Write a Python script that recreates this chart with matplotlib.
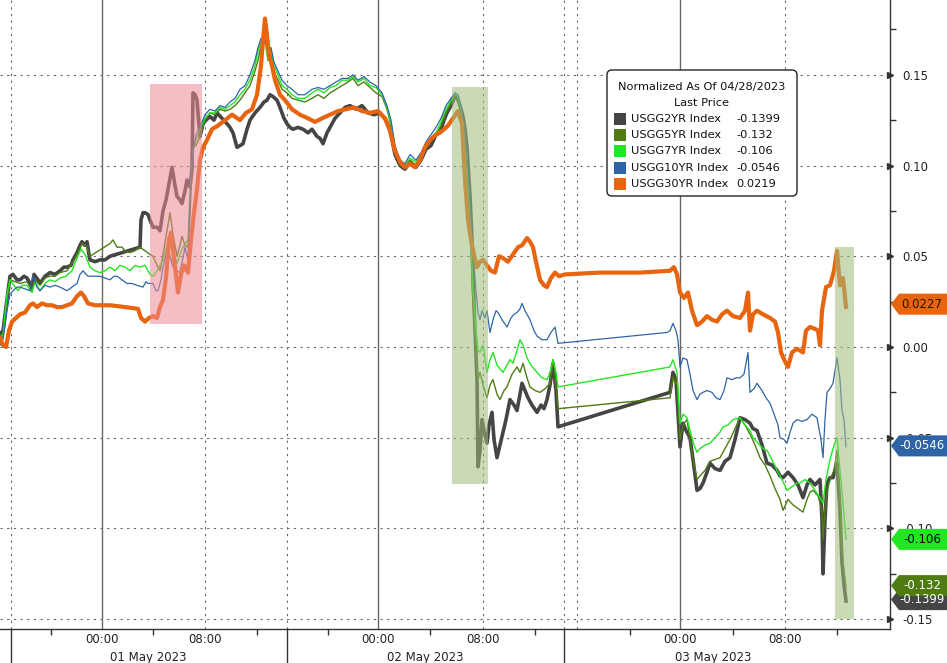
import matplotlib
matplotlib.use("Agg")
import matplotlib.pyplot as plt
from matplotlib.patches import Polygon, FancyBboxPatch, Rectangle
from matplotlib.transforms import blended_transform_factory, Affine2D

# ---------------- data (x = position on the session time axis) ----------------
x_30 = [0,3,6,9,12,16,20,25,30,33,37,42,47,52,57,62,67,72,77,81,84,88,95,110,125,138,141,145,149,153,157,160,163,166,169,171,174,178,181,184,188,191,194,197,200,203,207,212,218,225,232,240,246,252,257,261,263,265,267,269,272,275,280,285,292,300,308,315,322,330,338,346,354,362,370,378,385,390,395,400,405,410,415,420,425,430,436,442,448,453,458,462,465,468,471,474,477,480,483,487,491,495,499,503,508,513,518,522,527,530,533,536,540,544,547,551,555,559,565,600,640,670,674,677,680,684,688,692,697,702,707,712,717,722,727,733,740,745,748,750,753,757,763,770,775,778,781,785,788,792,797,803,806,810,815,818,820,822,826,830,834,837,840,843,846]
v_30 = [0.005,0.001,0.000,0.009,0.014,0.016,0.018,0.019,0.023,0.024,0.022,0.024,0.023,0.023,0.022,0.022,0.023,0.024,0.028,0.030,0.028,0.024,0.023,0.023,0.022,0.021,0.016,0.014,0.016,0.017,0.016,0.022,0.026,0.038,0.059,0.063,0.049,0.030,0.040,0.045,0.041,0.059,0.074,0.087,0.103,0.110,0.114,0.120,0.122,0.125,0.128,0.125,0.129,0.131,0.139,0.155,0.169,0.181,0.172,0.161,0.155,0.147,0.139,0.136,0.131,0.128,0.126,0.124,0.126,0.128,0.130,0.131,0.132,0.130,0.129,0.130,0.126,0.119,0.108,0.102,0.099,0.101,0.099,0.103,0.110,0.114,0.117,0.119,0.122,0.126,0.130,0.123,0.092,0.070,0.059,0.051,0.044,0.047,0.048,0.045,0.042,0.041,0.050,0.049,0.047,0.051,0.055,0.056,0.060,0.058,0.055,0.047,0.037,0.034,0.033,0.038,0.041,0.039,0.040,0.041,0.041,0.042,0.044,0.040,0.030,0.027,0.030,0.020,0.012,0.014,0.017,0.015,0.014,0.018,0.020,0.017,0.016,0.020,0.030,0.009,0.018,0.020,0.018,0.016,0.014,0.008,-0.003,-0.008,-0.011,-0.003,-0.001,-0.003,0.009,0.011,0.010,0.009,0.001,0.020,0.033,0.034,0.042,0.053,0.034,0.038,0.022]

x_2 = [0,3,7,10,13,17,20,24,27,32,34,38,40,45,50,55,60,64,67,71,73,77,80,82,85,87,89,90,95,100,105,110,140,141,143,145,148,150,153,157,160,163,166,169,172,175,177,180,182,185,187,190,192,193,195,197,199,200,203,206,210,214,217,222,227,230,233,237,240,243,247,250,255,260,264,267,270,273,277,280,284,287,290,293,298,303,308,312,317,320,323,327,330,335,340,345,350,356,362,368,374,380,386,390,395,400,405,410,416,421,426,431,436,440,444,447,451,455,457,460,463,465,467,470,472,473,475,477,478,480,482,484,487,489,492,494,497,500,503,506,510,514,517,520,522,525,528,532,537,541,544,547,550,553,556,558,670,673,676,678,680,683,686,690,693,697,700,703,707,710,715,720,725,730,735,740,745,750,753,757,762,767,772,777,780,783,788,793,798,803,807,810,815,820,822,823,825,827,830,833,837,840,842,844,846]
v_2 = [0.007,0.009,0.026,0.039,0.040,0.037,0.037,0.039,0.038,0.033,0.040,0.037,0.035,0.039,0.041,0.040,0.042,0.044,0.044,0.045,0.048,0.052,0.056,0.058,0.056,0.058,0.051,0.048,0.047,0.048,0.048,0.050,0.055,0.070,0.074,0.074,0.073,0.070,0.066,0.066,0.064,0.075,0.081,0.090,0.099,0.089,0.083,0.081,0.079,0.086,0.092,0.088,0.098,0.140,0.139,0.136,0.122,0.116,0.123,0.125,0.127,0.125,0.129,0.126,0.123,0.121,0.118,0.110,0.111,0.112,0.120,0.125,0.129,0.132,0.135,0.136,0.139,0.138,0.136,0.132,0.126,0.123,0.121,0.120,0.121,0.120,0.118,0.120,0.116,0.115,0.112,0.118,0.121,0.126,0.129,0.132,0.133,0.131,0.133,0.129,0.128,0.129,0.125,0.120,0.106,0.100,0.098,0.102,0.099,0.103,0.109,0.111,0.117,0.118,0.125,0.129,0.133,0.138,0.138,0.133,0.127,0.120,0.110,0.083,0.059,0.037,0.009,-0.018,-0.066,-0.057,-0.040,-0.046,-0.053,-0.043,-0.036,-0.051,-0.061,-0.054,-0.047,-0.040,-0.029,-0.032,-0.035,-0.026,-0.020,-0.024,-0.028,-0.032,-0.036,-0.032,-0.034,-0.029,-0.021,-0.009,-0.024,-0.044,-0.025,-0.014,-0.018,-0.036,-0.055,-0.042,-0.046,-0.050,-0.062,-0.079,-0.078,-0.075,-0.069,-0.064,-0.067,-0.068,-0.063,-0.061,-0.051,-0.039,-0.040,-0.042,-0.045,-0.046,-0.054,-0.064,-0.065,-0.068,-0.071,-0.072,-0.069,-0.072,-0.076,-0.083,-0.076,-0.073,-0.076,-0.073,-0.095,-0.125,-0.095,-0.075,-0.072,-0.072,-0.064,-0.090,-0.119,-0.131,-0.140]

x_5 = [0,3,7,10,15,20,27,32,35,40,45,50,55,60,67,73,78,82,86,90,110,113,117,122,125,130,135,140,145,150,153,157,160,163,167,170,173,177,180,182,185,188,190,193,196,200,205,210,215,220,225,230,235,240,245,250,255,258,261,264,266,268,271,274,278,282,287,292,298,305,312,318,324,330,336,342,348,353,358,364,370,376,382,387,391,395,400,405,410,416,421,426,431,436,441,446,451,455,458,461,464,467,470,473,476,478,480,483,487,490,493,497,500,504,507,512,517,520,523,527,530,535,540,545,550,553,556,558,670,673,677,680,683,687,690,694,697,700,705,710,715,720,725,730,735,740,745,750,755,760,765,770,775,780,783,788,793,798,803,807,810,813,818,822,823,825,827,830,834,837,840,842,844,846]
v_5 = [0.007,0.005,0.026,0.037,0.036,0.035,0.036,0.031,0.037,0.034,0.038,0.039,0.039,0.041,0.042,0.047,0.052,0.057,0.056,0.050,0.057,0.059,0.055,0.055,0.053,0.052,0.053,0.055,0.053,0.051,0.050,0.045,0.042,0.051,0.064,0.074,0.062,0.050,0.056,0.061,0.056,0.055,0.073,0.110,0.111,0.116,0.125,0.129,0.128,0.131,0.130,0.131,0.133,0.136,0.140,0.144,0.152,0.158,0.166,0.172,0.166,0.158,0.161,0.152,0.147,0.142,0.140,0.137,0.136,0.135,0.137,0.139,0.137,0.140,0.142,0.144,0.146,0.148,0.144,0.146,0.143,0.140,0.138,0.131,0.122,0.108,0.100,0.099,0.103,0.100,0.104,0.110,0.114,0.117,0.122,0.129,0.134,0.139,0.138,0.131,0.120,0.103,0.064,0.026,-0.002,-0.018,-0.014,-0.021,-0.028,-0.021,-0.018,-0.026,-0.029,-0.024,-0.022,-0.015,-0.011,-0.014,-0.009,-0.017,-0.022,-0.024,-0.025,-0.023,-0.020,-0.007,-0.021,-0.034,-0.028,-0.017,-0.021,-0.051,-0.043,-0.040,-0.051,-0.065,-0.073,-0.071,-0.068,-0.063,-0.062,-0.061,-0.056,-0.051,-0.045,-0.039,-0.043,-0.048,-0.054,-0.061,-0.065,-0.071,-0.078,-0.084,-0.090,-0.084,-0.087,-0.089,-0.091,-0.084,-0.080,-0.079,-0.082,-0.090,-0.106,-0.090,-0.080,-0.073,-0.068,-0.057,-0.084,-0.112,-0.123,-0.132]

x_7 = [0,3,7,10,14,18,22,27,32,35,40,45,50,55,60,66,72,77,81,85,90,95,100,105,110,115,120,125,130,135,140,145,150,153,157,160,163,167,170,173,177,180,183,188,190,193,196,200,205,210,215,220,225,230,235,240,245,250,255,258,261,264,266,268,271,274,278,282,287,292,298,305,312,318,324,330,336,342,348,353,358,364,370,376,382,387,391,395,400,405,410,416,421,426,431,436,441,446,451,455,458,461,464,467,470,473,476,478,480,483,487,490,493,497,500,503,507,510,513,517,520,523,527,531,537,542,547,550,553,556,558,670,673,677,680,683,687,690,694,697,700,705,710,715,720,723,728,733,740,745,750,753,758,763,767,772,777,782,787,792,797,800,805,810,815,820,823,826,830,834,837,840,843,846]
v_7 = [0.004,0.007,0.029,0.037,0.034,0.031,0.034,0.034,0.030,0.036,0.031,0.035,0.037,0.036,0.038,0.039,0.042,0.049,0.054,0.051,0.044,0.042,0.041,0.042,0.044,0.042,0.045,0.044,0.042,0.045,0.044,0.045,0.040,0.039,0.042,0.045,0.048,0.056,0.061,0.053,0.046,0.051,0.055,0.059,0.085,0.108,0.114,0.120,0.126,0.129,0.129,0.132,0.131,0.133,0.135,0.139,0.142,0.147,0.155,0.163,0.168,0.169,0.165,0.158,0.164,0.155,0.150,0.144,0.142,0.139,0.137,0.137,0.140,0.142,0.140,0.143,0.144,0.147,0.147,0.149,0.146,0.148,0.144,0.143,0.139,0.132,0.123,0.110,0.102,0.100,0.104,0.102,0.106,0.111,0.115,0.118,0.124,0.131,0.136,0.140,0.138,0.131,0.121,0.104,0.070,0.031,0.009,-0.002,-0.003,0.001,-0.014,-0.007,-0.003,-0.010,-0.012,-0.014,-0.010,-0.007,-0.009,-0.002,0.004,0.001,-0.006,-0.010,-0.014,-0.017,-0.018,-0.014,-0.007,-0.014,-0.022,-0.011,-0.007,-0.014,-0.042,-0.037,-0.039,-0.046,-0.054,-0.058,-0.056,-0.054,-0.053,-0.050,-0.047,-0.044,-0.043,-0.040,-0.039,-0.043,-0.046,-0.050,-0.053,-0.056,-0.057,-0.062,-0.068,-0.073,-0.079,-0.077,-0.075,-0.075,-0.073,-0.075,-0.079,-0.083,-0.086,-0.073,-0.062,-0.054,-0.050,-0.068,-0.086,-0.106]

x_10 = [0,3,7,10,13,17,20,25,30,33,37,40,45,50,55,60,67,72,77,80,83,86,88,95,100,105,110,114,117,122,127,132,137,143,146,148,153,156,158,161,163,166,168,171,173,177,180,183,185,188,190,193,196,200,205,210,215,220,225,230,235,240,245,250,255,258,261,264,266,268,271,274,278,282,287,292,298,305,312,318,324,330,336,342,348,353,358,364,370,376,382,387,391,395,400,405,410,416,421,426,431,436,441,446,451,455,458,461,464,467,470,473,476,478,480,482,485,487,490,493,496,498,502,507,511,514,517,520,522,525,530,534,537,542,547,551,555,558,667,670,673,676,678,680,683,687,690,693,697,700,703,707,712,716,720,724,727,732,736,740,744,748,750,754,757,762,766,770,774,778,780,784,787,790,793,797,802,807,812,817,821,823,825,827,830,833,837,840,842,844,846]
v_10 = [0.001,0.004,0.020,0.029,0.031,0.033,0.033,0.032,0.031,0.039,0.033,0.031,0.034,0.033,0.034,0.033,0.031,0.033,0.035,0.040,0.042,0.040,0.039,0.039,0.039,0.038,0.037,0.039,0.039,0.037,0.035,0.035,0.034,0.033,0.036,0.035,0.035,0.031,0.031,0.037,0.044,0.051,0.055,0.048,0.044,0.042,0.041,0.049,0.055,0.048,0.081,0.108,0.117,0.121,0.128,0.131,0.130,0.133,0.132,0.135,0.137,0.142,0.144,0.150,0.158,0.165,0.170,0.168,0.169,0.163,0.165,0.157,0.152,0.147,0.144,0.142,0.139,0.139,0.142,0.143,0.142,0.144,0.146,0.148,0.148,0.150,0.147,0.149,0.146,0.144,0.140,0.133,0.125,0.111,0.103,0.101,0.106,0.103,0.107,0.113,0.117,0.121,0.126,0.133,0.137,0.140,0.139,0.133,0.122,0.106,0.081,0.053,0.031,0.019,0.015,0.020,0.016,0.020,0.008,0.015,0.020,0.019,0.015,0.011,0.016,0.018,0.019,0.021,0.024,0.020,0.015,0.009,0.006,0.004,0.004,0.008,0.011,0.002,0.008,0.009,0.013,0.009,0.004,-0.011,-0.006,-0.007,-0.015,-0.024,-0.029,-0.026,-0.025,-0.024,-0.025,-0.028,-0.029,-0.024,-0.017,-0.018,-0.017,-0.017,-0.015,-0.003,-0.025,-0.023,-0.020,-0.024,-0.028,-0.031,-0.037,-0.043,-0.050,-0.051,-0.053,-0.047,-0.042,-0.040,-0.041,-0.040,-0.037,-0.039,-0.051,-0.061,-0.040,-0.025,-0.023,-0.020,-0.006,-0.018,-0.035,-0.040,-0.055]

series_names = ["USGG2YR Index", "USGG5YR Index", "USGG7YR Index", "USGG10YR Index", "USGG30YR Index"]
legend_values = ["-0.1399", "-0.132", "-0.106", "-0.0546", "0.0219"]
tag_labels = ["-0.1399", "-0.132", "-0.106", "-0.0546", "0.0227"]
tag_levels = [-0.1392, -0.1315, -0.106, -0.0545, 0.0236]
colors = ["#454545", "#4f7c12", "#22e622", "#2e64a6", "#e8640e"]
tag_text_colors = ["white", "white", "black", "white", "#2a1400"]
line_widths = [2.6, 1.0, 1.0, 0.9, 3.0]

y_ticks = [0.15, 0.10, 0.05, 0.00, -0.05, -0.10, -0.15]
y_tick_labels = ["0.15", "0.10", "0.05", "0.00", "-0.05", "-0.10", "-0.15"]
y_minor = [0.175, 0.125, 0.075, 0.025, -0.025, -0.075, -0.125]

time_tick_pos = [102, 205, 378, 483, 680, 785]
time_tick_labels = ["00:00", "08:00", "00:00", "08:00", "00:00", "08:00"]
minor_x = [51, 153, 257, 328, 430, 535, 630, 733, 837]
day_bounds = [11, 287, 564]
day_label_pos = [148, 425, 713]
day_labels = ["01 May 2023", "02 May 2023", "03 May 2023"]
dotted_vlines = [11, 205, 287, 483, 564, 577, 785]
solid_vlines = [102, 378, 680]

# highlighted windows: (x0, x1, y0, y1, color)
spans = [(150, 202, 0.0124, 0.145, "#ee8a94"),
         (452, 488, -0.0754, 0.1434, "#9fbd7c"),
         (835, 854, -0.150, 0.055, "#9fbd7c")]

# ---------------- figure ----------------
W, H = 947, 663
fig = plt.figure(figsize=(W / 100, H / 100), dpi=100)
fig.patch.set_facecolor("white")
ax = fig.add_axes([0, (H - 629) / H, 890 / W, 629 / H])
ax.set_xlim(0, 890)
ax.set_ylim(-0.1554, 0.1912)
plt.rcParams["font.family"] = ["DejaVu Sans"]

for s in ["left", "top"]:
    ax.spines[s].set_visible(False)
for s in ["right", "bottom"]:
    ax.spines[s].set_color("#333333")
    ax.spines[s].set_linewidth(1.0)

# grid lines
for yv in y_ticks:
    ax.axhline(yv, color="#666666", lw=0.8, ls=(0, (2, 4)), zorder=1)
for xv in dotted_vlines:
    ax.axvline(xv, color="#666666", lw=0.8, ls=(0, (2, 4)), zorder=1)
for xv in solid_vlines:
    ax.axvline(xv, color="#666666", lw=1.0, zorder=1)

# series
xs = [x_2, x_5, x_7, x_10, x_30]
vs = [v_2, v_5, v_7, v_10, v_30]
for i in range(5):
    ax.plot(xs[i], vs[i], color=colors[i], lw=line_widths[i], zorder=3 + i,
            solid_joinstyle="round")

# shaded windows (on top, translucent)
for x0, x1, y0, y1, c in spans:
    ax.add_patch(Rectangle((x0, y0), x1 - x0, y1 - y0, facecolor=c,
                           alpha=0.55, edgecolor="none", zorder=10))

# y axis on right
ax.yaxis.tick_right()
ax.set_yticks(y_ticks)
ax.set_yticklabels(y_tick_labels)
ax.set_yticks(y_minor, minor=True)
ax.tick_params(axis="y", which="major", length=0, pad=9, labelsize=8.5,
               labelcolor="#222222")
ax.tick_params(axis="y", which="minor", length=4, width=1, color="#333333",
               direction="out")
bt = blended_transform_factory(ax.transAxes, ax.transData)
for yv in y_ticks:
    ax.plot([1.0], [yv], marker=">", ms=5, color="#333333", transform=bt,
            clip_on=False, zorder=12)

# x axis
ax.set_xticks(time_tick_pos)
ax.set_xticklabels(time_tick_labels)
ax.set_xticks(minor_x, minor=True)
ax.tick_params(axis="x", which="major", length=0, pad=3, labelsize=8.5,
               labelcolor="#222222")
ax.tick_params(axis="x", which="minor", length=4, width=1, color="#333333",
               direction="out")
bx = blended_transform_factory(ax.transData, ax.transAxes)
for xv in day_bounds:
    ax.plot([xv, xv], [0, -34 / 629], color="#333333", lw=1.0, transform=bx,
            clip_on=False)
for xp, lab in zip(day_label_pos, day_labels):
    ax.text(xp, -28 / 629, lab, transform=bx, ha="center", va="center",
            fontsize=8.5, color="#222222")

# right-side last value tags
for i in range(5):
    yv = tag_levels[i]
    h = 0.0058
    pts = [(891 / 890, yv), (899 / 890, yv + h), (947 / 890, yv + h),
           (947 / 890, yv - h), (899 / 890, yv - h)]
    ax.add_patch(Polygon(pts, closed=True, facecolor=colors[i],
                         edgecolor="none", transform=bt, clip_on=False,
                         zorder=20 + (4 - i) if i > 1 else 20 + i))
    ax.text(922 / 890, yv, tag_labels[i], transform=bt, ha="center",
            va="center", fontsize=8.5, color=tag_text_colors[i],
            zorder=30 + i, clip_on=False)

# legend box (figure pixel coordinates, origin top-left)
pxT = Affine2D().scale(1 / W, -1 / H).translate(0, 1) + fig.transFigure
box = FancyBboxPatch((607, 70), 190, 126, boxstyle="round,pad=0,rounding_size=5",
                     facecolor="white", edgecolor="#222222", lw=1.0,
                     transform=pxT, zorder=40)
fig.patches.append(box)
fig.text(702, 87, "Normalized As Of 04/28/2023", transform=pxT, ha="center",
         va="center", fontsize=8.2, color="#111111", zorder=41)
fig.text(702, 103, "Last Price", transform=pxT, ha="center", va="center",
         fontsize=8.2, color="#111111", zorder=41)
for i in range(5):
    yy = 119 + i * 16.2
    fig.patches.append(Rectangle((614, yy - 6), 12, 12, facecolor=colors[i],
                                 edgecolor="none", transform=pxT, zorder=41))
    fig.text(631, yy, series_names[i], transform=pxT, ha="left", va="center",
             fontsize=8.2, color="#111111", zorder=41)
    fig.text(736, yy, legend_values[i], transform=pxT, ha="left", va="center",
             fontsize=8.2, color="#111111", zorder=41)

fig.savefig("out.png", dpi=100)
